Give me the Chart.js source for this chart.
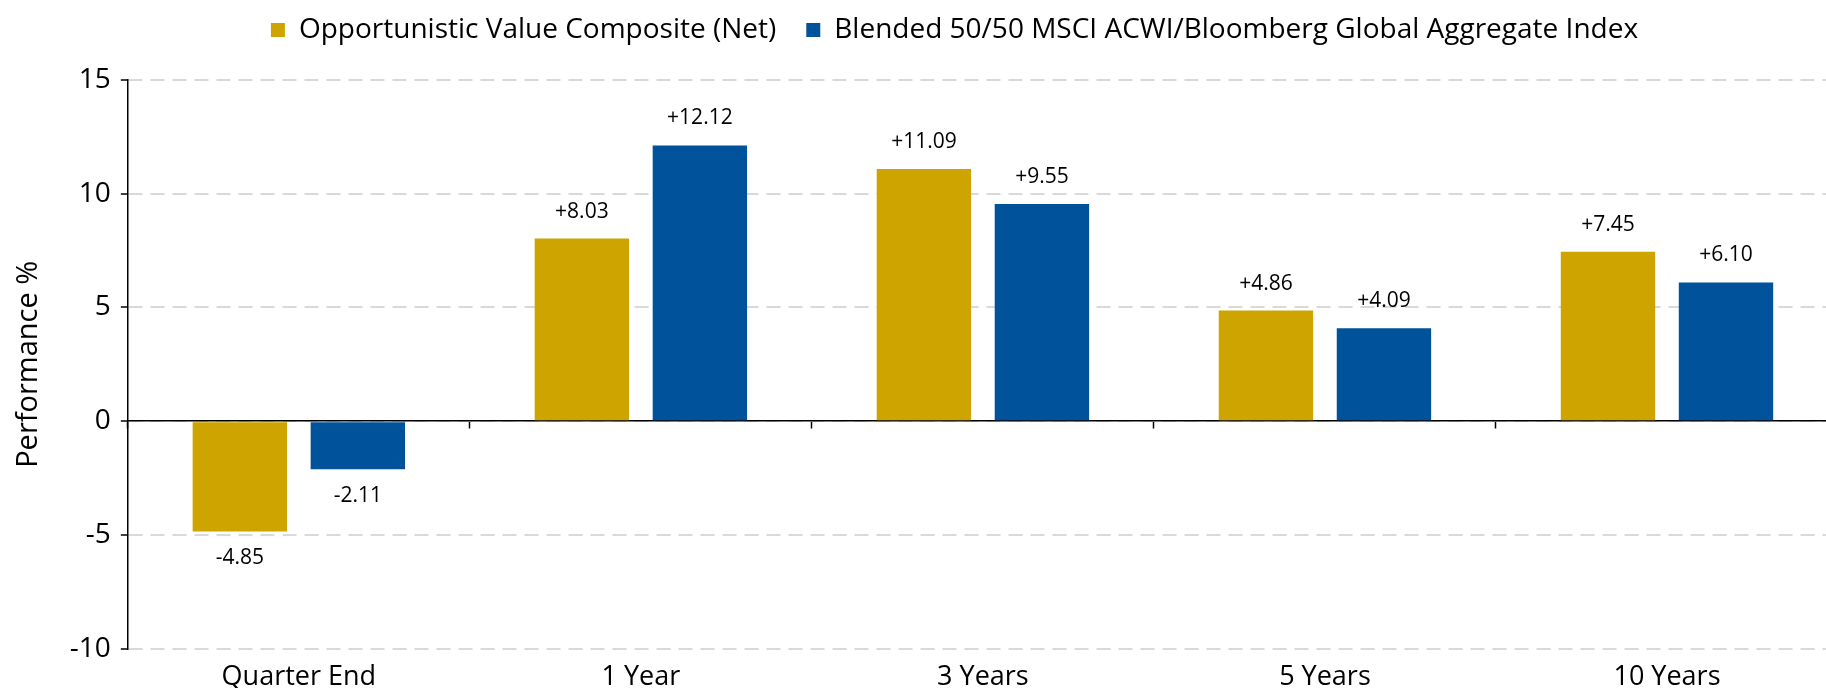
<!DOCTYPE html>
<html>
<head>
<meta charset="utf-8">
<script src="https://cdn.jsdelivr.net/npm/chart.js@4.4.1/dist/chart.umd.min.js"></script>
<style>
  html, body { margin: 0; padding: 0; background: #fff; overflow: hidden; }
  #wrap { width: 1826px; height: 688px; overflow: hidden; position: relative; }
  #box { width: 1912px; height: 709px; position: absolute; left: 0; top: 0; }
</style>
</head>
<body>
<div id="wrap"><div id="box"><canvas id="myChart"></canvas></div></div>
<script>
// data
var categories = ["Quarter End", "1 Year", "3 Years", "5 Years", "10 Years"];
var compositeValues = [-4.85, 8.03, 11.09, 4.86, 7.45];
var benchmarkValues = [-2.11, 12.12, 9.55, 4.09, 6.10];
var seriesNames = ["Opportunistic Value Composite (Net)", "Blended 50/50 MSCI ACWI/Bloomberg Global Aggregate Index"];
var yMin = -10, yMax = 15, yStep = 5;

var FONT = '"Open Sans", sans-serif';
var GOLD = '#CDA400';
var BLUE = '#00539B';

// "+8.03" style labels above / below each bar
var valueLabels = {
  id: 'valueLabels',
  afterDatasetsDraw: function(chart) {
    var ctx = chart.ctx;
    ctx.save();
    ctx.font = '21px ' + FONT;
    ctx.fillStyle = '#000';
    ctx.textAlign = 'center';
    ctx.textBaseline = 'middle';
    chart.data.datasets.forEach(function(ds, i) {
      chart.getDatasetMeta(i).data.forEach(function(bar, j) {
        var v = ds.data[j];
        var txt = (v > 0 ? '+' : '') + v.toFixed(2);
        var y = v >= 0 ? bar.y - 27 : bar.y + 27;
        ctx.fillText(txt, bar.x, y);
      });
    });
    ctx.restore();
  }
};

// legend: taller box (pushes plot down) and nudged into place
var legendPlace = {
  id: 'legendPlace',
  beforeInit: function(chart) {
    var fit = chart.legend.fit;
    chart.legend.fit = function() {
      fit.bind(chart.legend)();
      this.height = 80;
    };
  },
  afterLayout: function(chart) {
    var lg = chart.legend;
    lg.left += 32;
    lg.right += 32;
    lg.top -= 14;
  }
};

var ctx = document.getElementById('myChart').getContext('2d');

var chart = new Chart(ctx, {
  type: 'bar',
  data: {
    labels: categories,
    datasets: [{
      label: seriesNames[0],
      data: compositeValues,
      backgroundColor: GOLD
    }, {
      label: seriesNames[1],
      data: benchmarkValues,
      backgroundColor: BLUE
    }]
  },
  options: {
    responsive: true,
    maintainAspectRatio: false,
    animation: false,
    categoryPercentage: 0.69,
    barPercentage: 0.8,
    layout: { padding: { left: 7, right: 74, top: 0, bottom: 10 } },
    plugins: {
      legend: {
        position: 'top',
        labels: {
          font: { family: FONT, size: 28 },
          color: '#000',
          boxWidth: 14,
          boxHeight: 14,
          padding: 30
        }
      },
      tooltip: { enabled: false }
    },
    scales: {
      x: {
        position: 'bottom',
        grid: { display: false },
        border: { display: false },
        ticks: { font: { family: FONT, size: 27 }, color: '#000', padding: 5 }
      },
      xZero: {
        type: 'category',
        labels: categories,
        position: { y: 0 },
        offset: true,
        grid: { offset: true, drawOnChartArea: false, drawTicks: true, tickLength: 7, tickColor: '#000', tickWidth: 1.5 },
        border: { display: true, color: '#000', width: 1.5 },
        ticks: { display: false }
      },
      y: {
        min: yMin,
        max: yMax,
        ticks: { stepSize: yStep, font: { family: FONT, size: 28 }, color: '#000', padding: 10 },
        grid: { color: '#d9d9d9', lineWidth: 2, tickColor: '#000', tickWidth: 1.5, tickLength: 7 },
        border: { color: '#000', width: 1.5, dash: [14, 8] },
        title: { display: true, text: 'Performance %', font: { family: FONT, size: 29 }, color: '#000', padding: { top: 4, bottom: 14 } }
      }
    }
  },
  plugins: [valueLabels, legendPlace]
});
</script>
</body>
</html>
